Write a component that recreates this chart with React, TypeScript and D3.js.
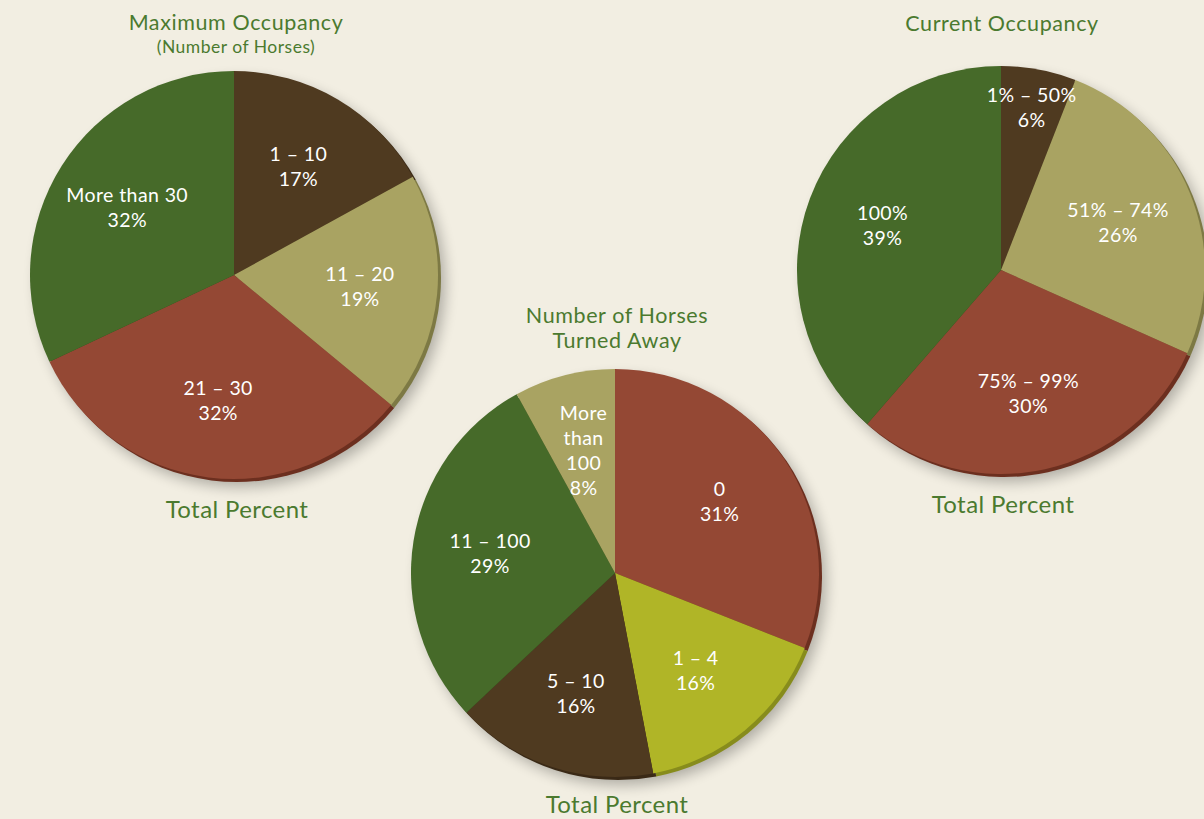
import React, { useEffect, useRef } from "react";
import * as d3 from "d3";

const maxLabels = ["1 – 10", "11 – 20", "21 – 30", "More than 30"];
const maxValues = [17, 19, 32, 32];
const maxColors = ["brown", "tan", "red", "green"];

const awayLabels = ["0", "1 – 4", "5 – 10", "11 – 100", "More than 100"];
const awayValues = [31, 16, 16, 29, 8];
const awayColors = ["red", "lime", "brown", "green", "tan"];

const curLabels = ["1% – 50%", "51% – 74%", "75% – 99%", "100%"];
const curValues = [6, 26, 30, 39];
const curColors = ["brown", "tan", "red", "green"];

const fill = {
  brown: "#4f3a20",
  tan: "#a9a362",
  red: "#944834",
  green: "#466a29",
  lime: "#b0b527",
};
const rim = {
  brown: "#3a2916",
  tan: "#7d7944",
  red: "#6c2f1f",
  green: "#2f4a1a",
  lime: "#878c1c",
};

const W = 1204;
const H = 819;
const R = 204;
const titleColor = "#4b7a2f";
const font = "Lato, 'Open Sans', sans-serif";

const App = () => {
  const ref = useRef(null);

  useEffect(() => {
    const svg = d3
      .select(ref.current)
      .selectAll("svg")
      .data([null])
      .join("svg")
      .attr("width", W)
      .attr("height", H)
      .attr("viewBox", `0 0 ${W} ${H}`)
      .style("position", "absolute")
      .style("left", "0px")
      .style("top", "0px")
      .style("font-family", font);

    svg.selectAll("*").remove();
    svg.append("rect").attr("width", W).attr("height", H).attr("fill", "#f2eee2");

    const defs = svg.append("defs");
    const f = defs.append("filter").attr("id", "shadow").attr("x", "-20%").attr("y", "-20%").attr("width", "140%").attr("height", "140%");
    f.append("feGaussianBlur").attr("stdDeviation", 7);

    const pie = d3.pie().sort(null).value((d) => d.value);
    const arc = d3.arc().innerRadius(0).outerRadius(R);

    const drawPie = (cx, cy, labels, values, colors) => {
      const data = labels.map((l, i) => ({ label: l, value: values[i], color: colors[i] }));
      const arcs = pie(data);
      const g = svg.append("g").attr("transform", `translate(${cx},${cy})`);

      // soft drop shadow
      g.append("circle")
        .attr("cx", 7)
        .attr("cy", 8)
        .attr("r", R)
        .attr("fill", "#000")
        .attr("opacity", 0.28)
        .attr("filter", "url(#shadow)");

      // darker rim (thickness)
      g.append("g")
        .attr("transform", "translate(3,3)")
        .selectAll("path")
        .data(arcs)
        .join("path")
        .attr("d", arc)
        .attr("fill", (d) => rim[d.data.color]);

      g.append("g")
        .selectAll("path")
        .data(arcs)
        .join("path")
        .attr("d", arc)
        .attr("fill", (d) => fill[d.data.color]);

      arcs.forEach((d) => {
        const a = (d.startAngle + d.endAngle) / 2;
        const share = d.data.value / d3.sum(values);
        const lr = share < 0.07 ? R * 0.81 : R * 0.62;
        const x = Math.sin(a) * lr;
        const y = -Math.cos(a) * lr;
        let lines = [d.data.label, `${d.data.value}%`];
        if (d.data.label === "More than 100") lines = ["More", "than", "100", `${d.data.value}%`];
        const lh = 25;
        const t = g
          .append("text")
          .attr("text-anchor", "middle")
          .attr("fill", "#fff")
          .attr("font-size", 19.5)
          .attr("letter-spacing", 0.4);
        lines.forEach((ln, i) => {
          t.append("tspan")
            .attr("x", x)
            .attr("y", y + (i - (lines.length - 1) / 2) * lh + 7)
            .text(ln);
        });
      });
    };

    drawPie(234, 275, maxLabels, maxValues, maxColors);
    drawPie(615, 573, awayLabels, awayValues, awayColors);
    drawPie(1001, 270, curLabels, curValues, curColors);

    const title = (x, y, text, size, ls) =>
      svg
        .append("text")
        .attr("x", x)
        .attr("y", y)
        .attr("text-anchor", "middle")
        .attr("fill", titleColor)
        .attr("font-size", size)
        .attr("letter-spacing", ls)
        .text(text);

    title(236, 30, "Maximum Occupancy", 21.5, 0.6);
    title(236, 53, "(Number of Horses)", 17.5, 0.5);
    title(1002, 31, "Current Occupancy", 21.5, 0.6);
    title(617, 323, "Number of Horses", 21.5, 0.6);
    title(617, 348, "Turned Away", 21.5, 0.6);
    title(237, 518, "Total Percent", 24, 0.4);
    title(1003, 513, "Total Percent", 24, 0.4);
    title(617, 813, "Total Percent", 24, 0.4);
  }, []);

  return <div ref={ref}></div>;
};

export default App;
